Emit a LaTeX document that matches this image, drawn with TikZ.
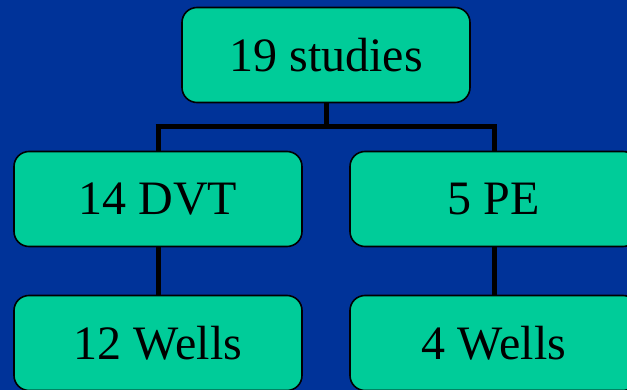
\documentclass[tikz,border=0pt]{standalone}
\usepackage{fontspec}
\setmainfont{Liberation Serif}
\definecolor{bgblue}{HTML}{003399}
\definecolor{boxgreen}{HTML}{00CC99}
\tikzset{
  box/.style={draw=black, line width=1.6pt, fill=boxgreen, rounded corners=15pt,
    minimum width=288pt, minimum height=95pt, inner sep=0pt,
    font=\fontsize{48}{52}\selectfont, text=black},
  conn/.style={draw=black, line width=5pt}
}
\begin{document}
\begin{tikzpicture}[x=1pt,y=-1pt]
\useasboundingbox (0,0) rectangle (627,390);
\clip (0,0) rectangle (627,390);
\fill[bgblue] (0,0) rectangle (627,390);
\coordinate (bar) at (326,127);
\coordinate (barL) at (158,127);
\coordinate (barR) at (494,127);
\draw[conn] (326,102) -- (bar);
\draw[conn] ([xshift=-2.5pt]barL) -- ([xshift=2.5pt]barR);
\draw[conn] (barL) -- (158,300);
\draw[conn] (barR) -- (494,300);
\node[box] (top) at (326,55) {19 studies};
\node[box] (dvt) at (158,199) {14 DVT};
\node[box] (pe) at (494,199) {5 PE};
\node[box] (w12) at (158,343) {12 Wells};
\node[box] (w4) at (494,343) {4 Wells};
\end{tikzpicture}
\end{document}
